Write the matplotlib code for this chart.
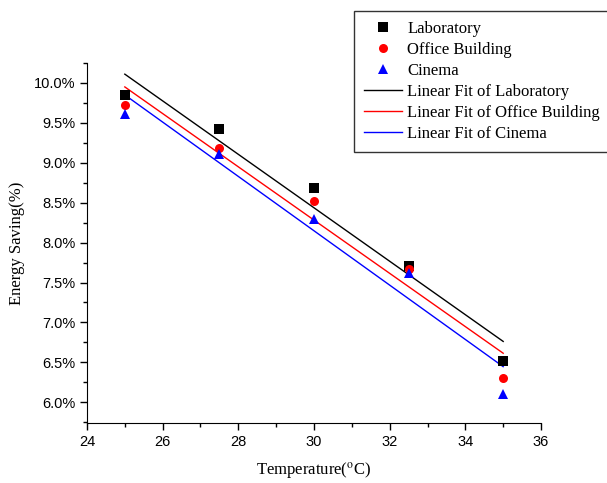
"""Energy saving vs. temperature with linear fits."""
import matplotlib
matplotlib.use("Agg")
import matplotlib.pyplot as plt
import numpy as np
from matplotlib.ticker import MultipleLocator, FormatStrFormatter

matplotlib.rcParams["mathtext.fontset"] = "stix"

temperature = [25, 27.5, 30, 32.5, 35]
laboratory = [9.85, 9.42, 8.68, 7.71, 6.52]
office = [9.72, 9.19, 8.52, 7.67, 6.31]
cinema = [9.61, 9.11, 8.30, 7.62, 6.10]

series = [
    ("Laboratory", laboratory, "black", "s"),
    ("Office Building", office, "red", "o"),
    ("Cinema", cinema, "blue", "^"),
]

SERIF = "Liberation Serif"
SANS = "Liberation Sans"

fig = plt.figure(figsize=(6.07, 4.83), dpi=100)
ax = fig.add_axes([0.1433, 0.1242, 0.7480, 0.7454])

x = np.array(temperature)
handles_pts = []
handles_fit = []
for name, vals, color, marker in series:
    h, = ax.plot(x, vals, linestyle="none", marker=marker, color=color,
                 markersize=6.5 if marker != "^" else 7, markeredgewidth=0,
                 label=name, zorder=3)
    handles_pts.append(h)
for name, vals, color, marker in series:
    slope, intercept = np.polyfit(x, vals, 1)
    xs = np.array([x.min(), x.max()])
    h, = ax.plot(xs, slope * xs + intercept, color=color, linewidth=1.0,
                 label="Linear Fit of " + name, zorder=2)
    handles_fit.append(h)

ax.set_xlim(24, 36)
ax.set_ylim(5.74, 10.25)
ax.xaxis.set_major_locator(MultipleLocator(2))
ax.xaxis.set_minor_locator(MultipleLocator(1))
ax.yaxis.set_major_locator(MultipleLocator(0.5))
ax.yaxis.set_minor_locator(MultipleLocator(0.25))
ax.yaxis.set_major_formatter(FormatStrFormatter("%.1f%%"))

ax.spines["top"].set_visible(False)
ax.spines["right"].set_visible(False)
ax.tick_params(which="major", direction="out", length=5, width=1, labelsize=10.5)
ax.tick_params(which="minor", direction="out", length=3, width=1)
for lbl in ax.get_xticklabels() + ax.get_yticklabels():
    lbl.set_fontfamily(SANS)

ax.set_xlabel("Temperature($^{\\mathrm{o}}$C)", fontfamily=SERIF, fontsize=12,
              labelpad=8)
ax.set_ylabel("Energy Saving(%)", fontfamily=SERIF, fontsize=12, labelpad=6)

leg = fig.legend(handles_pts + handles_fit,
                 [h.get_label() for h in handles_pts + handles_fit],
                 loc="upper left", bbox_to_anchor=(354 / 607, 1 - 11 / 483),
                 prop={"family": SERIF, "size": 12}, frameon=True,
                 fancybox=False, edgecolor="black", borderpad=0.6,
                 labelspacing=0.3, handlelength=2.3, handletextpad=0.3,
                 borderaxespad=0)
leg.get_frame().set_linewidth(1.0)

fig.savefig("out.png", dpi=100)
